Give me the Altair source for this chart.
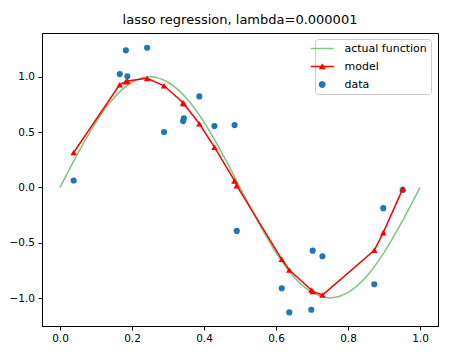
import altair as alt
import pandas as pd

# actual function
actual_x = [0.00, 0.05, 0.10, 0.15, 0.20, 0.25, 0.30, 0.35, 0.40, 0.45, 0.50,
            0.55, 0.60, 0.65, 0.70, 0.75, 0.80, 0.85, 0.90, 0.95, 1.00]
actual_y = [0.00, 0.31, 0.59, 0.81, 0.95, 1.00, 0.95, 0.81, 0.59, 0.31, 0.00,
            -0.31, -0.59, -0.81, -0.95, -1.00, -0.95, -0.81, -0.59, -0.31, 0.00]

# model predictions (red triangles)
model_x = [0.038, 0.166, 0.183, 0.187, 0.242, 0.289, 0.342, 0.344, 0.387, 0.429,
           0.485, 0.491, 0.616, 0.637, 0.698, 0.702, 0.729, 0.873, 0.898, 0.952]
model_y = [0.315, 0.928, 0.955, 0.962, 0.985, 0.918, 0.765, 0.756, 0.575, 0.363,
           0.059, 0.016, -0.650, -0.747, -0.928, -0.940, -0.973, -0.569, -0.409, -0.014]

# observed data (blue dots)
data_x = [0.038, 0.166, 0.183, 0.187, 0.242, 0.289, 0.342, 0.344, 0.387, 0.429,
          0.485, 0.491, 0.616, 0.637, 0.698, 0.702, 0.729, 0.873, 0.898, 0.952]
data_y = [0.062, 1.024, 1.238, 1.003, 1.262, 0.500, 0.599, 0.623, 0.822, 0.554,
          0.563, -0.394, -0.912, -1.130, -1.106, -0.572, -0.623, -0.876, -0.188, -0.023]

SERIES = ["actual function", "model", "data"]
COLORS = ["#7fc47f", "#ff0000", "#1f77b4"]
# legend glyphs: thin bar = line, bar + triangle = line with marker, small disc = dot
GLYPHS = [
    "M-2.5,-0.13H1.68V0.13H-2.5Z",
    "M-2.5,-0.13H1.68V0.13H-2.5ZM-0.42,-0.58L0.2,0.52L-1.04,0.52Z",
    "M0.2,0A0.62,0.62 0 1,1 -1.04,0A0.62,0.62 0 1,1 0.2,0Z",
]

actual_df = pd.DataFrame({"x": actual_x, "y": actual_y, "series": SERIES[0]})
model_df = pd.DataFrame({"x": model_x, "y": model_y, "series": SERIES[1]})
data_df = pd.DataFrame({"x": data_x, "y": data_y, "series": SERIES[2]})

FONT = "DejaVu Sans"

xenc = alt.X("x:Q", scale=alt.Scale(domain=[-0.05, 1.05], nice=False, zero=False),
             axis=alt.Axis(values=[0.0, 0.2, 0.4, 0.6, 0.8, 1.0], format=".1f", title=None))
yenc = alt.Y("y:Q", scale=alt.Scale(domain=[-1.253, 1.395], nice=False, zero=False),
             axis=alt.Axis(values=[-1.0, -0.5, 0.0, 0.5, 1.0], format=".1f", title=None))

legend = alt.Legend(
    title=None, orient="none", legendX=273, legendY=6,
    padding=4, rowPadding=6, columnPadding=0, labelOffset=14.5, symbolSize=121,
    labelFontSize=11, labelFont=FONT, labelColor="#000",
    strokeColor="#cccccc", fillColor="white", cornerRadius=3,
    symbolStrokeWidth=0, symbolOpacity=1,
)

color = alt.Color("series:N", scale=alt.Scale(domain=SERIES, range=COLORS), legend=legend)
shape = alt.Shape("series:N", scale=alt.Scale(domain=SERIES, range=GLYPHS), legend=legend)

data_layer = alt.Chart(data_df).mark_circle(size=38, opacity=1, color=COLORS[2]).encode(x=xenc, y=yenc)
actual_layer = alt.Chart(actual_df).mark_line(strokeWidth=1.5, interpolate="monotone",
                                              color=COLORS[0]).encode(x=xenc, y=yenc)
model_line = alt.Chart(model_df).mark_line(strokeWidth=1.5, color=COLORS[1]).encode(x=xenc, y=yenc)
model_pts = alt.Chart(model_df).mark_point(shape="triangle-up", filled=True, size=42, opacity=1,
                                           color=COLORS[1]).encode(x=xenc, y=yenc)
# legend-only layer: draws nothing, carries the colour/shape legend
legend_layer = alt.Chart(data_df).transform_filter("false").mark_point(
    filled=True, opacity=1, size=121).encode(x=xenc, y=yenc, color=color, shape=shape)

chart = alt.layer(data_layer, actual_layer, model_line, model_pts, legend_layer).properties(
    width=396, height=293,
    title=alt.TitleParams("lasso regression, lambda=0.000001", fontSize=13, font=FONT,
                          fontWeight="normal", color="#000", anchor="middle", offset=6),
    autosize=alt.AutoSizeParams(type="none"),
    padding={"left": 42, "top": 33, "right": 15, "bottom": 30},
).configure_view(stroke="#000", strokeWidth=1).configure_axis(
    grid=False, domainColor="#000", tickColor="#000", tickSize=4, labelColor="#000",
    labelFont=FONT, labelFontSize=10.5, labelPadding=3.5, domainWidth=1,
)

chart.save("out.html", embed_options={"renderer": "svg", "actions": False})
